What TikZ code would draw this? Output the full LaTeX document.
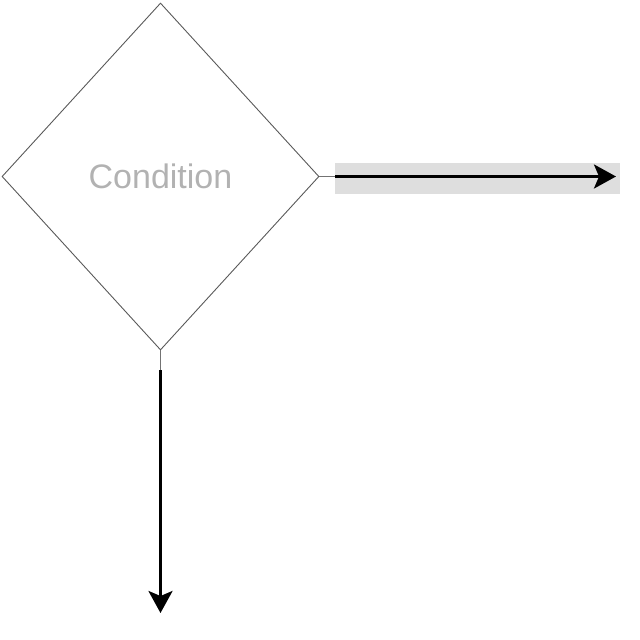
\documentclass[tikz,border=0pt]{standalone}
\usepackage{fontspec}
\setmainfont{Liberation Sans}
\usetikzlibrary{shapes.geometric,arrows.meta}
\begin{document}
\begin{tikzpicture}[x=1pt,y=-1pt,
  decision/.style={diamond,draw=black!65,line width=0.9pt,inner sep=0pt,
    minimum width=317pt,minimum height=347pt,text=black!30,
    font=\fontsize{34}{40}\selectfont},
  stub/.style={draw=black!55,line width=1pt},
  flow/.style={draw=black,line width=3pt,
    -{Stealth[length=22pt,width=24pt,inset=5pt]}},
  band/.style={fill=black!13,draw=none}]
\useasboundingbox (0,0) rectangle (640,640);
\node[decision] (c) at (160.5,176.5) {Condition};
\fill[black!13] (335,163) rectangle (620,194);
\coordinate (r1) at (335,176.5);
\coordinate (r2) at (616,176.5);
\coordinate (d1) at (160.5,370);
\coordinate (d2) at (160.5,613);
\draw[stub] (c.east) -- (r1);
\draw[flow] (r1) -- (r2);
\draw[stub] (c.south) -- (d1);
\draw[flow] (d1) -- (d2);
\end{tikzpicture}
\end{document}
